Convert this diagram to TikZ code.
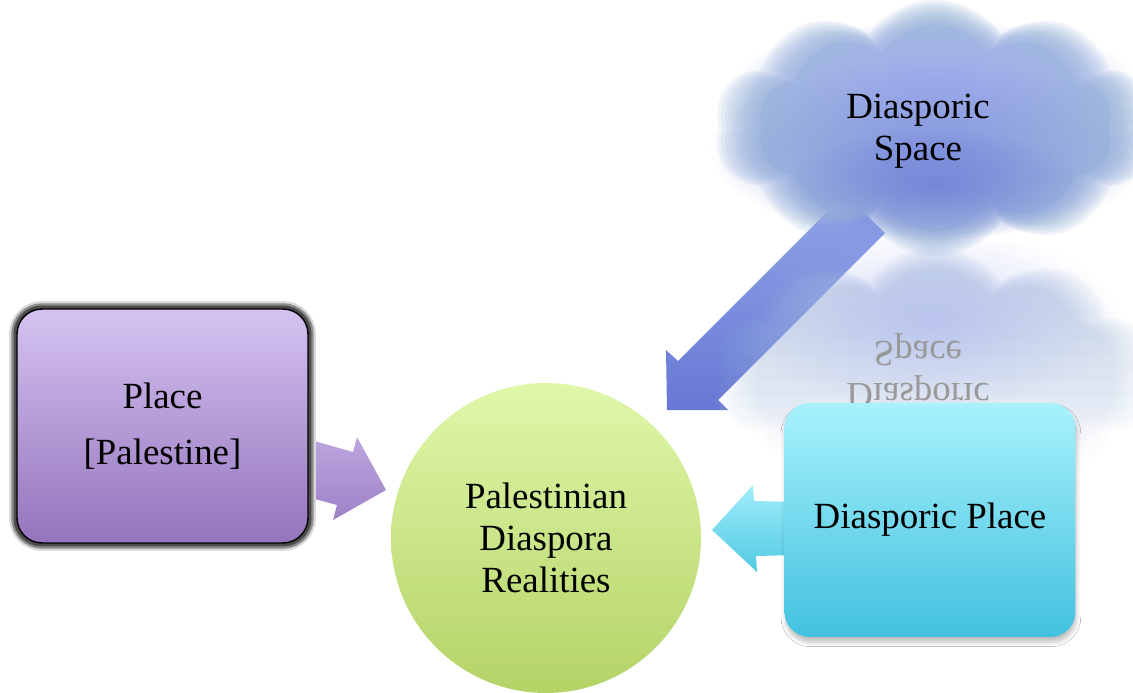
\documentclass[tikz,border=0pt]{standalone}
\usepackage{fontspec}
\setmainfont{Liberation Serif}
\usetikzlibrary{shapes.symbols,fadings,shadows.blur}

\definecolor{placetop}{HTML}{D5C2F1}
\definecolor{placebot}{HTML}{9474BC}
\definecolor{coretop}{HTML}{E0F7AA}
\definecolor{corebot}{HTML}{B4D366}
\definecolor{dplacetop}{HTML}{A8F2FC}
\definecolor{dplacebot}{HTML}{42C1DF}
\definecolor{cloudout}{HTML}{A1BADC}
\definecolor{cloudmid}{HTML}{8696E2}
\definecolor{cloudin}{HTML}{6F80D6}
\definecolor{cloudtop}{HTML}{A3ADF0}
\definecolor{arrowblue}{HTML}{6678D4}
\definecolor{arrowlight}{HTML}{92A3E8}
\definecolor{purpletop}{HTML}{BBA5DE}
\definecolor{purplebot}{HTML}{9E82C8}
\definecolor{cyantop}{HTML}{A2EEFA}
\definecolor{cyanbot}{HTML}{50C9E3}

\tikzfading[name=softglow,inner color=transparent!0,outer color=transparent!100]

\tikzset{
  puff/.style={cloud,cloud puffs=10,cloud puff arc=110,cloud ignores aspect,fill=cloudout,draw=none},
  box/.style={rounded corners=0.5cm,minimum width=5.82cm,minimum height=4.68cm,align=center}
}

\begin{document}
\begin{tikzpicture}[x=0.02cm,y=-0.02cm,font=\fontsize{21}{24}\selectfont]
\useasboundingbox (0,0) rectangle (1133,693);
\fill[white] (0,0) rectangle (1133,693);

\foreach \s in {1.12,1.1,...,1.03}
  \node[puff,opacity=0.14,minimum width=\s*7.9cm,minimum height=\s*4.6cm] at (935,128) {};

\shade[top color=arrowlight,bottom color=arrowblue] (845,194) -- (678,361) -- (666,350) -- (667,410) -- (728,410) -- (718,400) -- (885,233) -- cycle;

\foreach \s in {1.12,1.1,...,0.91}
  \node[puff,opacity=0.07,path fading=south,minimum width=\s*7.9cm,minimum height=\s*4.6cm] at (935,375) {};
\fill[cloudtop,opacity=0.5,path fading=softglow] (930,320) ellipse (190 and 90);
\node[yscale=-1,transform shape,text=black!40,align=center] (echo) at (918,371) {Diasporic\\Space};
\fill[white,path fading=north] (720,400) rectangle (1133,510);

\foreach \s in {1.02,1,...,0.91}
  \node[puff,opacity=0.2,minimum width=\s*7.9cm,minimum height=\s*4.6cm] at (935,128) {};
\node[puff,minimum width=0.9*7.9cm,minimum height=0.9*4.6cm] at (935,128) {};
\fill[cloudtop,path fading=softglow] (935,80) ellipse (200 and 60);
\fill[cloudmid,path fading=softglow] (930,150) ellipse (220 and 90);
\fill[cloudin,opacity=0.8,path fading=softglow] (935,185) ellipse (150 and 55);
\node[align=center] (dspace) at (918,131) {Diasporic\\Space};

\shade[top color=purpletop,bottom color=purplebot] (300,437) -- (353,452) -- (357,437) -- (386,490) -- (333,520) -- (337,505) -- (300,495) -- cycle;
\shade[top color=cyantop,bottom color=cyanbot] (795,502) -- (754,501) -- (753,485) -- (712,530) -- (757,572) -- (756,556) -- (795,555) -- cycle;

\node[box,draw=black,line width=0.8pt,top color=placetop,bottom color=placebot,
  preaction={draw=black!15,line width=9pt},
  preaction={draw=black!45,line width=6.5pt},
  preaction={draw=black!70,line width=4pt}]
  (place) at (162.5,426) {Place\\[8pt]{[Palestine]}};
\node[circle,minimum size=6.2cm,top color=coretop,bottom color=corebot,align=center] (core) at (546,538) {Palestinian\\Diaspora\\Realities};
\node[box,top color=dplacetop,bottom color=dplacebot,
  blur shadow={shadow xshift=0.5pt,shadow yshift=-3pt,shadow blur radius=2.5pt,shadow opacity=25}]
  (dplace) at (930,520) {Diasporic Place};
\end{tikzpicture}
\end{document}
